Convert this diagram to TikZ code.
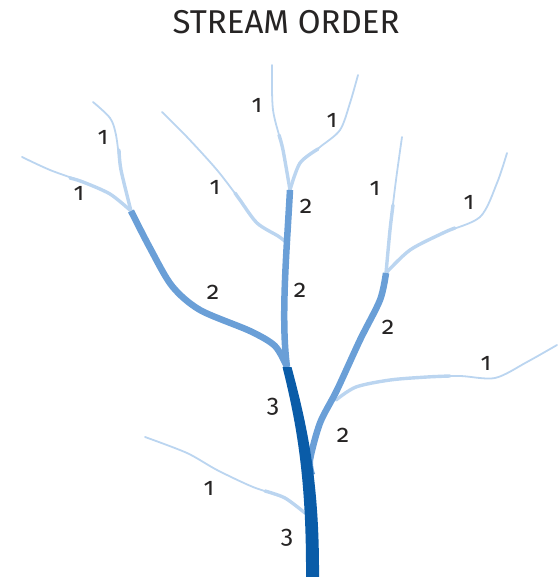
\documentclass[tikz,border=0pt]{standalone}
\usepackage{fontspec}
\setmainfont{Fira Sans}[Numbers=OldStyle]
\usepackage{tikz}
\usepackage{xcolor}
\definecolor{orderone}{HTML}{BBD5F0}
\definecolor{ordertwo}{HTML}{6A9FD7}
\definecolor{orderthree}{HTML}{0A5CA8}
\definecolor{labelgray}{HTML}{262424}

\begin{document}
\begin{tikzpicture}[x=1pt, y=-1pt,
	order1/.style={orderone, line width=1.8pt, line cap=round},
	order1base/.style={orderone, line width=3.4pt, line cap=round},
	order2/.style={ordertwo, line width=6.5pt},
	order3/.style={fill=orderthree},
	num/.style={text=labelgray, font=\fontsize{25}{25}\selectfont, inner sep=0pt}]
	\useasboundingbox (0,0) rectangle (558,577);
	\node[text=labelgray, font=\fontsize{33}{33}\selectfont] (title) at (286, 22) {STREAM ORDER};
	% junctions
	\coordinate (jleft)  at (131, 211);
	\coordinate (jtop)   at (290, 190);
	\coordinate (jmid)   at (286, 242);
	\coordinate (jright) at (386, 273);
	\coordinate (jthree) at (287, 367);
	\coordinate (jside)  at (336, 400);
	\coordinate (jjoin)  at (312, 475);
	\coordinate (jlow)   at (305, 513);
	\coordinate (mouth)  at (312.5, 577);
	% first order
	\draw[order1] plot[smooth] coordinates {(22,157) (50,170) (83,182) (110,194) (jleft)};
	\draw[order1] plot[smooth] coordinates {(93,102) (110,118) (116,135) (121,170) (jleft)};
	\draw[order1] plot[smooth] coordinates {(162,112) (187,137) (217,170) (240,200) (257,223) (278,236) (jmid)};
	\draw[order1] plot[smooth] coordinates {(272,65) (273,110) (283,150) (jtop)};
	\draw[order1] plot[smooth] coordinates {(358,75) (350,103) (340,130) (320,147) (300,163) (jtop)};
	\draw[order1] plot[smooth] coordinates {(402,137) (396,180) (390,230) (jright)};
	\draw[order1] plot[smooth] coordinates {(507,153) (497,183) (480,217) (443,233) (410,250) (jright)};
	\draw[order1] plot[smooth] coordinates {(557,345) (527,362) (495,378) (460,376) (427,377) (390,380) (356,387) (jside)};
	\draw[order1] plot[smooth] coordinates {(145,437) (187,453) (217,470) (253,487) (285,498) (jlow)};
	% thicker lower reaches
	\draw[order1base] plot[smooth] coordinates {(70,178) (83,182) (110,194) (jleft)};
	\draw[order1base] plot[smooth] coordinates {(119,150) (121,170) (jleft)};
	\draw[order1base] plot[smooth] coordinates {(235,193) (240,200) (257,223) (278,236) (jmid)};
	\draw[order1base] plot[smooth] coordinates {(279,135) (283,150) (jtop)};
	\draw[order1base] plot[smooth] coordinates {(318,149) (300,163) (jtop)};
	\draw[order1base] plot[smooth] coordinates {(393,205) (390,230) (jright)};
	\draw[order1base] plot[smooth] coordinates {(455,228) (443,233) (410,250) (jright)};
	\draw[order1base] plot[smooth] coordinates {(450,376) (427,377) (390,380) (356,387) (jside)};
	\draw[order1base] plot[smooth] coordinates {(265,491) (285,498) (jlow)};
	% second order
	\draw[order2] plot[smooth] coordinates {(jleft) (150,248) (172,286) (200,310) (250,331) (275,346) (jthree)};
	\draw[order2] (jtop) .. controls (286,260) and (281,320) .. (jthree);
	\draw[order2] plot[smooth] coordinates {(jright) (380,300) (360,340) (337,390) (320,423) (310,460) (jjoin)};
	% third order
	\fill[order3] ([xshift=-4.5pt]jthree) .. controls (297,425) and (306.5,480) .. ([xshift=-6.5pt]mouth)
		-- ([xshift=6.5pt]mouth) .. controls (319.5,480) and (307,425) .. ([xshift=4.5pt]jthree) -- cycle;
	% labels
	\node[num] (a1) at (103,137) {1};
	\node[num] (a2) at (79,193) {1};
	\node[num] (a3) at (215,187) {1};
	\node[num] (a4) at (257,105) {1};
	\node[num] (a5) at (332,120) {1};
	\node[num] (a6) at (375,188) {1};
	\node[num] (a7) at (469,202) {1};
	\node[num] (a8) at (486,363) {1};
	\node[num] (a9) at (209,488) {1};
	\node[num] (b1) at (306,206) {2};
	\node[num] (b2) at (300,290) {2};
	\node[num] (b3) at (213,292) {2};
	\node[num] (b4) at (388,327) {2};
	\node[num] (b5) at (343,435) {2};
	\node[num] (c1) at (273,407) {3};
	\node[num] (c2) at (287,538) {3};
\end{tikzpicture}
\end{document}
